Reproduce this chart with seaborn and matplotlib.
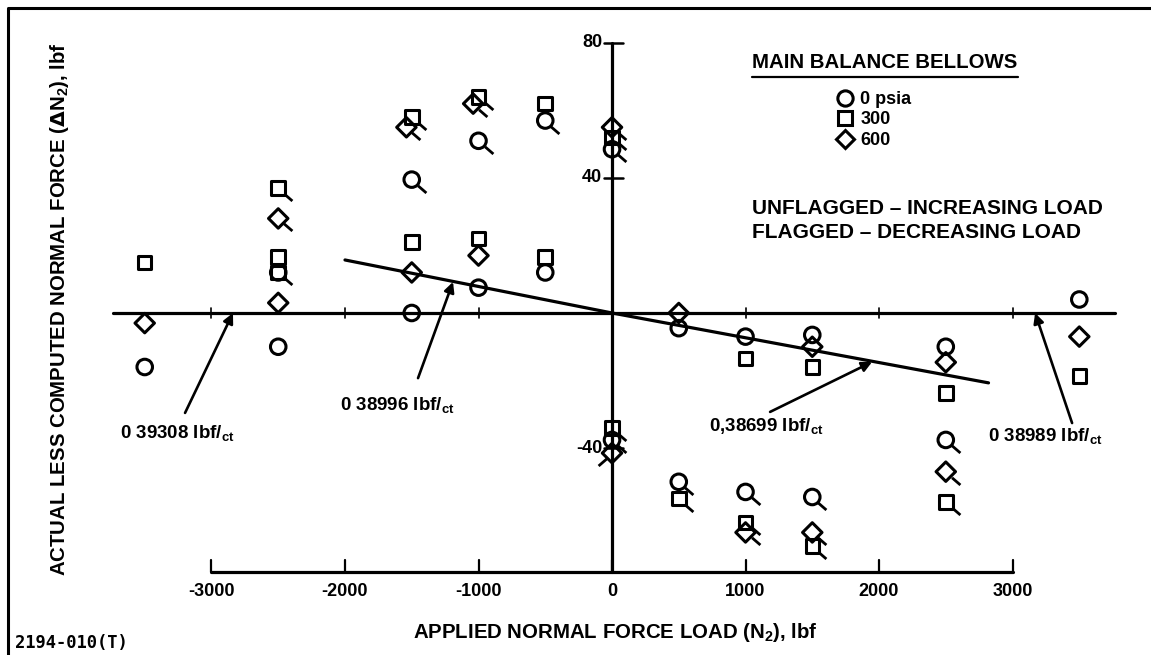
import numpy as np
import pandas as pd
import matplotlib.pyplot as plt
import matplotlib.lines as mlines
import seaborn as sns

# values
# load = applied normal force (lbf), dn = actual less computed (lbf)
# flag: 0 = unflagged, 1 = flag down-right, 2 = flag down-left
p0_load = [-3500, -2500, -2500, -1500, -1500, -1000, -1000, -500, -500, 0, 0,
           500, 500, 1000, 1000, 1500, 1500, 2500, 2500, 3500]
p0_dn = [-16, -10, 12, 0, 39.5, 7.5, 51, 12, 57, 48.5, -37.6,
         -4.5, -50, -7, -53, -6.5, -54.5, -10, -37.6, 4]
p0_flag = [0, 0, 1, 0, 1, 0, 1, 0, 1, 1, 1,
           0, 1, 0, 1, 0, 1, 0, 1, 0]

p300_load = [-3500, -2500, -2500, -2500, -1500, -1500, -1000, -1000, -500, -500, 0, 0,
             500, 1000, 1000, 1500, 1500, 2500, 2500, 3500]
p300_dn = [15, 37, 16.6, 12, 58, 21, 64, 22, 62, 16.6, 52, -34,
           -55, -13.5, -62, -16, -69, -23.7, -56, -18.7]
p300_flag = [0, 1, 0, 0, 1, 0, 1, 0, 0, 0, 1, 1,
             1, 0, 1, 0, 1, 0, 1, 0]

p600_load = [-3500, -2500, -2500, -1540, -1500, -1040, -1000, 0, 0,
             500, 1000, 1500, 1500, 2500, 2500, 3500]
p600_dn = [-3, 28, 3, 55, 12, 62, 17, 55, -41.5,
           0, -65, -10, -65, -14.6, -47, -7]
p600_flag = [0, 1, 0, 1, 0, 1, 0, 1, 2,
             0, 1, 0, 1, 0, 1, 0]

bellows_labels = ["0 psia", "300", "600"]

# calibration lines through the origin
fit_x = [-2000, 0, 2820]
fit_y = [15.7, 0, -20.7]

# slope callouts: label, arrow tail, arrow tip, text position
callout_text = ["0 39308 lbf/", "0 38996 lbf/", "0,38699 lbf/", "0 38989 lbf/"]
callout_tail = [(-3198, -29.6), (-1453, -19.3), (1184, -29.3), (3446, -32.6)]
callout_tip = [(-2839, 0), (-1191, 9.2), (1948, -14.5), (3169, 0)]
callout_pos = [(-3685, -35.6), (-2037, -27.3), (727, -33.5), (2816, -36.4)]

x_ticks = [-3000, -2000, -1000, 0, 1000, 2000, 3000]
y_ticks = [80, 40, -40]

df = pd.concat([
    pd.DataFrame({"load": p0_load, "dn": p0_dn, "flag": p0_flag, "bellows": "0 psia"}),
    pd.DataFrame({"load": p300_load, "dn": p300_dn, "flag": p300_flag, "bellows": "300"}),
    pd.DataFrame({"load": p600_load, "dn": p600_dn, "flag": p600_flag, "bellows": "600"}),
], ignore_index=True)

sns.set_style("white")
plt.rcParams["font.family"] = ["Liberation Sans", "DejaVu Sans"]
plt.rcParams["font.weight"] = "bold"
plt.rcParams["text.color"] = "black"

fig = plt.figure(figsize=(11.51, 6.55), dpi=100)
ax = fig.add_axes([0, 0, 1, 1])
ax.set_xlim(-4584, 4037)
ax.set_ylim(-101.3, 92.7)
ax.axis("off")

lw_axis = 2.3
y_base = -76.7

# hand-drawn style axes of the original
ax.plot([-3740, 3770], [0, 0], color="black", lw=lw_axis, zorder=2)
ax.plot([0, 0], [80, y_base], color="black", lw=lw_axis, zorder=2)
ax.plot([x_ticks[0], x_ticks[-1]], [y_base, y_base], color="black", lw=lw_axis, zorder=2)
for t in x_ticks:
    ax.plot([t, t], [y_base, y_base + 3.5], color="black", lw=1.6)
    ax.text(t, -82.6, f"{t}", ha="center", va="center", fontsize=13)
    if t != 0:
        ax.plot([t, t], [-1.6, 1.6], color="black", lw=1.2)
for t in y_ticks:
    ax.plot([-60, 82], [t, t], color="black", lw=1.8)
    ax.text(-75, t, f"{t}", ha="right", va="center", fontsize=13)

# fit lines
sns.lineplot(x=fit_x, y=fit_y, sort=False, estimator=None, color="black", lw=2.3, ax=ax)

# data points
markers = {"0 psia": "o", "300": "s", "600": "D"}
sizes = {"0 psia": 125, "300": 95, "600": 98}
for lab in bellows_labels:
    sub = df[df["bellows"] == lab]
    sns.scatterplot(data=sub, x="load", y="dn", marker=markers[lab], s=sizes[lab],
                    facecolors="none", edgecolor="black", linewidth=2.2,
                    legend=False, ax=ax, zorder=3)

# flags mark decreasing load
flag_right = [(0.4, -0.38), (1, -0.9)]
flag_left = [(-0.4, -0.38), (-1, -0.9)]
for code, verts in [(1, flag_right), (2, flag_left)]:
    sub = df[df["flag"] == code]
    ax.plot(sub["load"], sub["dn"], ls="none", marker=verts, ms=20,
            mew=2.0, mec="black", mfc="none", zorder=3)

# slope callouts
for txt, tail, tip, pos in zip(callout_text, callout_tail, callout_tip, callout_pos):
    ax.annotate("", xy=tip, xytext=tail,
                arrowprops=dict(arrowstyle="-|>", color="black", lw=1.9,
                                mutation_scale=15, shrinkA=0, shrinkB=0))
    ax.text(pos[0], pos[1], txt + r"$\mathregular{_{ct}}$", ha="left", va="center",
            fontsize=13.5)

# axis titles
ax.text(22, -94.5, r"APPLIED NORMAL FORCE LOAD (N$\mathregular{_2}$), lbf",
        ha="center", va="center", fontsize=14.7)
ax.text(-4142, 1.0, r"ACTUAL LESS COMPUTED NORMAL FORCE ($\Delta$N$\mathregular{_2}$), lbf",
        ha="center", va="center", rotation=90, fontsize=14.7)

# legend block
ax.text(1049, 74.2, "MAIN BALANCE BELLOWS", ha="left", va="center", fontsize=14.7)
ax.plot([1049, 3041], [69.8, 69.8], color="black", lw=1.6)
handles = [mlines.Line2D([], [], ls="none", marker=markers[lab],
                         ms=11 if lab == "0 psia" else 9.5,
                         mfc="none", mec="black", mew=2.2) for lab in bellows_labels]
ax.legend(handles, bellows_labels, loc="upper left", bbox_to_anchor=(0.728, 0.861),
          frameon=False, handlelength=0.8, handletextpad=0.45,
          labelspacing=0.19, borderpad=0, borderaxespad=0,
          prop={"weight": "bold", "size": 13})
ax.text(1049, 31.0, "UNFLAGGED \u2013 INCREASING LOAD", ha="left", va="center", fontsize=15)
ax.text(1049, 23.9, "FLAGGED \u2013 DECREASING LOAD", ha="left", va="center", fontsize=15)

# page frame and figure id
ax.plot([0.007, 0.007, 1.0], [0.0, 0.988, 0.988], color="black", lw=2.2,
        transform=ax.transAxes, clip_on=False)
ax.text(0.013, 0.018, "2194-010(T)", transform=ax.transAxes, ha="left", va="center",
        fontsize=12.3, family="DejaVu Sans Mono", weight="bold")

fig.savefig("out.png", dpi=100)
